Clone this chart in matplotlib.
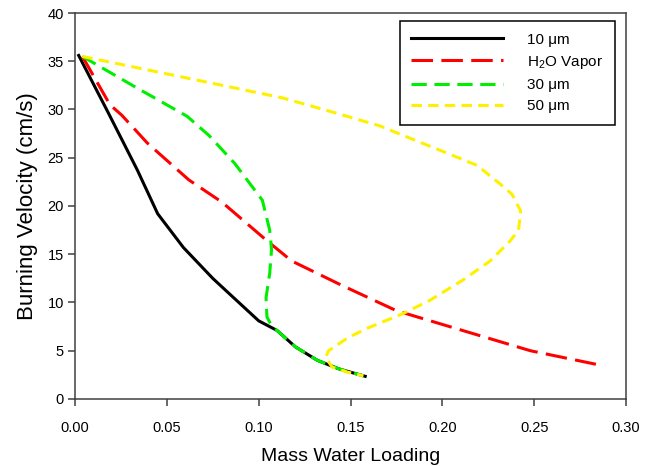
import numpy as np
import matplotlib
matplotlib.use("Agg")
import matplotlib.pyplot as plt

plt.rcParams['font.family'] = ['Liberation Sans', 'DejaVu Sans']
plt.rcParams['mathtext.fontset'] = 'custom'
plt.rcParams['mathtext.rm'] = 'Liberation Sans'
plt.rcParams['lines.scale_dashes'] = False

# 10 um droplets
x_10 = [0.002, 0.018, 0.034, 0.045, 0.059, 0.075, 0.0835, 0.100, 0.110, 0.120, 0.132, 0.144, 0.158]
y_10 = [35.6, 29.7, 23.7, 19.2, 15.7, 12.5, 11.0, 8.1, 7.1, 5.4, 4.0, 3.1, 2.35]

# water vapor
x_vap = [0.004, 0.019, 0.0255, 0.0395, 0.062, 0.080, 0.1045, 0.118, 0.145, 0.175, 0.211, 0.248, 0.2836]
y_vap = [35.5, 30.5, 29.4, 26.5, 22.7, 20.4, 16.4, 14.3, 11.8, 9.15, 7.1, 5.0, 3.6]

# 30 um droplets
x_30 = [0.004, 0.034, 0.061, 0.073, 0.087, 0.102, 0.106, 0.107, 0.106, 0.104, 0.1045, 0.107,
        0.110, 0.120, 0.132, 0.144, 0.157]
y_30 = [35.5, 32.2, 29.3, 27.3, 24.4, 20.6, 17.5, 15.5, 13.0, 10.5, 8.5, 7.6,
        7.1, 5.4, 4.0, 3.1, 2.4]

# 50 um droplets
x_50 = [0.004, 0.06, 0.113, 0.139, 0.166, 0.184, 0.201, 0.219, 0.232, 0.238, 0.2426, 0.2415,
        0.237, 0.226, 0.211, 0.193, 0.178, 0.160, 0.149, 0.138, 0.1365, 0.140, 0.148, 0.157]
y_50 = [35.5, 33.3, 31.2, 29.8, 28.3, 26.9, 25.6, 24.2, 22.2, 21.2, 19.5, 17.5,
        16.4, 14.3, 12.3, 10.2, 8.8, 7.4, 6.4, 5.0, 4.3, 3.3, 2.8, 2.4]

fig = plt.figure(figsize=(6.5, 4.66), dpi=100)
ax = fig.add_axes([0.1154, 0.1438, 0.8477, 0.8283])

ax.plot(x_10, y_10, color='black', lw=2.2, label=r'10 μm')
ax.plot(x_vap, y_vap, color='#ff0000', lw=2.2, dashes=(15.5, 6), label=r'H$_2$O Vapor')
ax.plot(x_30, y_30, color='#00ee00', lw=2.2, dashes=(11, 5.5), label=r'30 μm')
ax.plot(x_50, y_50, color='#fff000', lw=2.2, dashes=(7.5, 4.5), label=r'50 μm')

ax.set_xlim(0, 0.30)
ax.set_ylim(0, 40)
ax.set_xticks(np.arange(0, 0.31, 0.05))
ax.set_xticklabels(['%.2f' % v for v in np.arange(0, 0.31, 0.05)])
ax.set_yticks(range(0, 41, 5))

for s in ax.spines.values():
    s.set_color('#404040')
    s.set_linewidth(1.1)
ax.tick_params(direction='out', length=5, width=1.1, color='#404040', labelsize=10.5, pad=11)
ax.tick_params(axis='y', pad=3)

ax.set_xlabel('Mass Water Loading', fontsize=14, labelpad=9)
ax.set_ylabel('Burning Velocity (cm/s)', fontsize=16, labelpad=7)

leg = ax.legend(loc='upper right', bbox_to_anchor=(0.98, 0.979), borderaxespad=0,
                fontsize=11, handlelength=6, handletextpad=1.6, labelspacing=0.47,
                borderpad=0.75, fancybox=False, framealpha=1, edgecolor='black')
leg.get_frame().set_linewidth(1.1)

fig.savefig('out.png', dpi=100)
